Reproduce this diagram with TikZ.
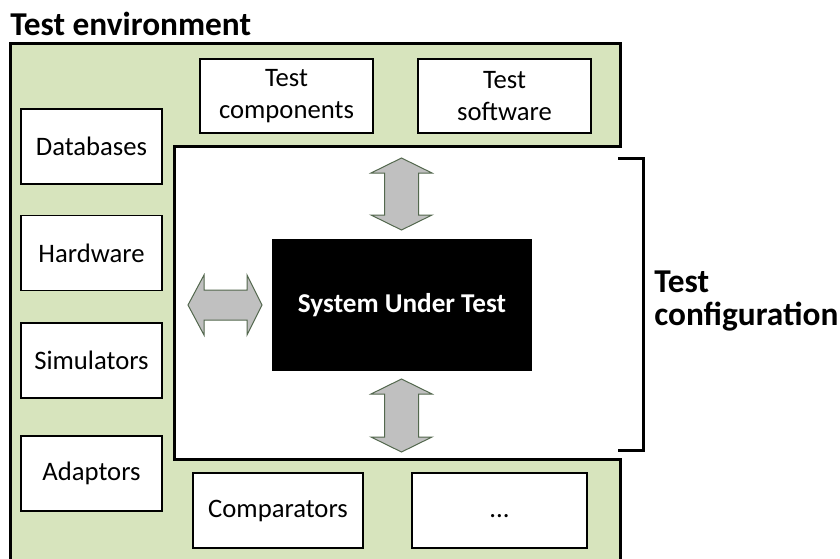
\documentclass[tikz,border=0pt]{standalone}
\usepackage{fontspec}
\setmainfont{Carlito}
\usepackage{xcolor}

\definecolor{envgreen}{RGB}{215,228,189}
\definecolor{arrowgray}{RGB}{192,192,192}
\definecolor{arrowline}{RGB}{83,104,78}

\tikzset{
  partbox/.style={draw=black, line width=1.1pt, fill=white, inner sep=0.75pt,
    align=center, font=\fontsize{20}{24}\selectfont},
  sidebox/.style={partbox, minimum width=105.75pt, minimum height=56.25pt},
  topbox/.style={partbox, minimum width=129.75pt, minimum height=55.5pt},
  sutbox/.style={fill=black, text=white, minimum width=195pt, minimum height=99pt,
    font=\bfseries\fontsize{20.4}{24}\selectfont},
  biglabel/.style={inner sep=0.75pt, align=left, font=\bfseries\fontsize{25}{24.5}\selectfont},
  dblarrow/.style={fill=arrowgray, draw=arrowline, line width=0.75pt, line join=miter},
}

\begin{document}
\begin{tikzpicture}[x=0.75pt,y=0.75pt,yscale=-1,xscale=1]
  \path[use as bounding box] (0,0) rectangle (840,558);

  % Test environment (bottom edge runs off the page)
  \draw[fill=envgreen, line width=2.25pt] (10,43) rectangle (620,570);
  % Test configuration area, open to the right
  \fill[white] (174,146) rectangle (623,459);
  \draw[line width=2.25pt] (622,146) -- (174,146) -- (174,459) -- (622,459);

  % Text Node
  \node[biglabel, anchor=base west] (envlbl) at (9,35) {Test environment};

  % top row
  \node[topbox] (tcomp) at (286.5,96) {Test\\components};
  \node[topbox] (tsoft) at (504.5,96) {Test\\software};

  % left column
  \node[sidebox] (db) at (91.5,146.5) {Databases};
  \node[sidebox] (hw) at (91.5,253) {Hardware};
  \node[sidebox] (sim) at (91.5,360.5) {Simulators};
  \node[sidebox] (adapt) at (91.5,473.5) {Adaptors};

  % bottom row
  \node[partbox, minimum width=127.5pt, minimum height=56.25pt] (comp) at (278,510.5) {Comparators};
  \node[partbox, minimum width=131.25pt, minimum height=56.25pt, text height=14pt, text depth=4pt] (more) at (499.5,510.5) {...};

  % System under test
  \node[sutbox] (sut) at (402,305) {System Under Test};

  % Double arrows
  \draw[dblarrow] (401.5,158) -- (432,173) -- (418.5,173) -- (418.5,215) -- (432,215) -- (401.5,230)
    -- (371,215) -- (384.5,215) -- (384.5,173) -- (371,173) -- cycle;
  \draw[dblarrow] (401.5,379) -- (432,394) -- (418.5,394) -- (418.5,437) -- (432,437) -- (401.5,452)
    -- (371,437) -- (384.5,437) -- (384.5,394) -- (371,394) -- cycle;
  \draw[dblarrow] (188,305) -- (204,275) -- (204,290) -- (247,290) -- (247,275) -- (262,305)
    -- (247,335) -- (247,320) -- (204,320) -- (204,335) -- cycle;

  % Bracket
  \draw[line width=2.25pt] (618,158) -- (643,158) -- (643,450) -- (618,450);

  % Text Node
  \node[biglabel, anchor=west] (cfglbl) at (653,301) {Test\\configuration};
\end{tikzpicture}
\end{document}
